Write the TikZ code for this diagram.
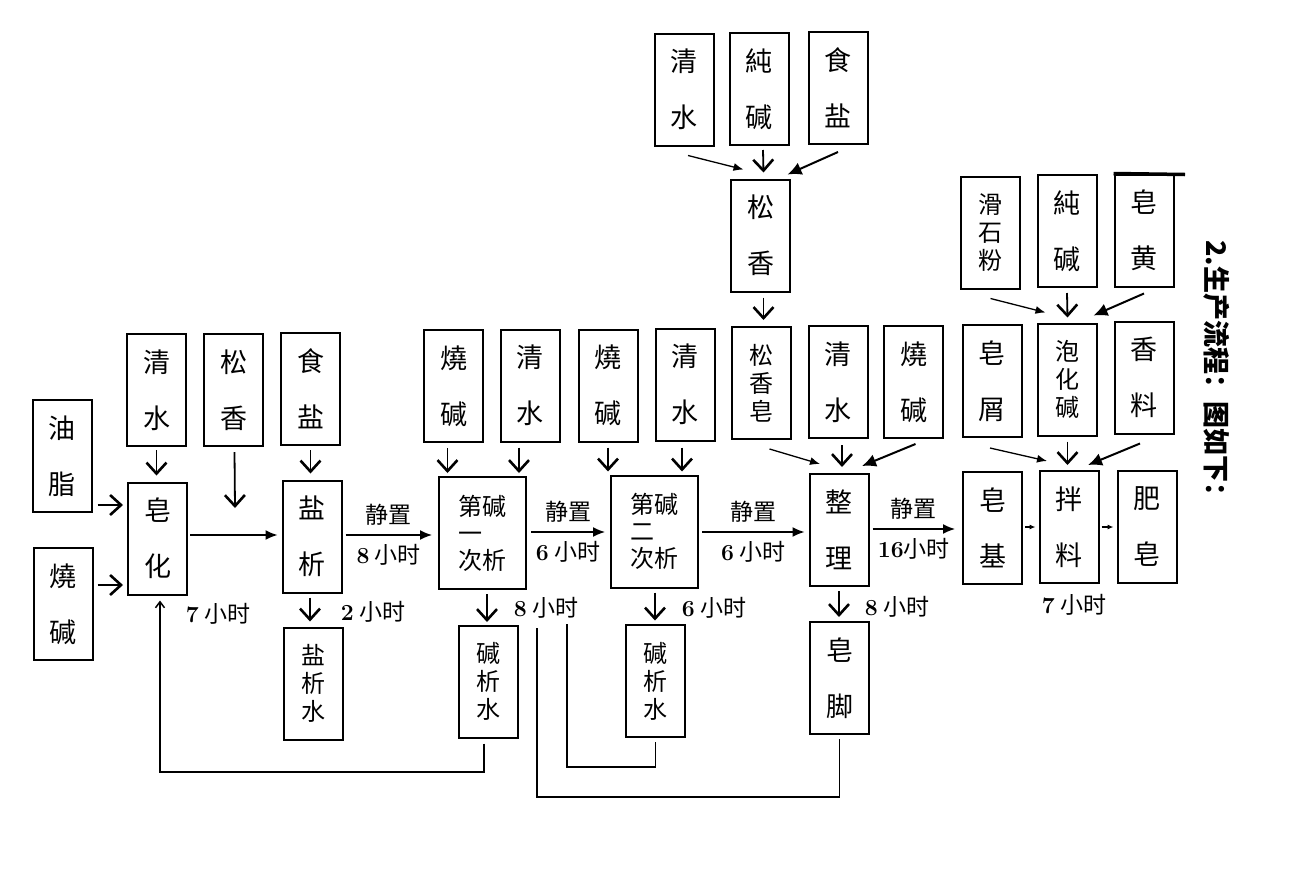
\documentclass[tikz,border=0pt]{standalone}
\usepackage{fontspec}
\newfontfamily\cjk{Noto Sans CJK SC}
\usetikzlibrary{arrows.meta,calc}
\newcommand\numb[1]{{\rmfamily\bfseries #1}}
\tikzset{
 bx/.style={draw, line width=2pt, minimum width=59pt, minimum height=112pt, inner sep=0pt, align=center, font=\cjk\fontsize{27}{56}\selectfont},
 bx3/.style={bx, font=\cjk\fontsize{24}{28}\selectfont},
 bxw/.style={bx, minimum width=87pt, font=\cjk\fontsize{24}{27}\selectfont},
 dn/.style={line width=1.8pt, -{Straight Barb[length=11pt,width=20pt,line width=2.6pt]}},
 hz/.style={line width=1.5pt, -{Latex[length=12pt,width=10pt]}},
 hzs/.style={line width=1.1pt, -{Latex[length=6pt,width=5pt]}},
 dgl/.style={line width=1.3pt, -{Latex[length=10pt,width=8pt]}},
 dgr/.style={line width=2pt, -{Latex[length=14pt,width=13pt]}},
 lp/.style={line width=1.5pt},
 lbl/.style={font=\cjk\fontsize{23}{26}\selectfont, inner sep=0pt},
}
\begin{document}
\begin{tikzpicture}[x=1pt,y=-1pt]
\fill[white] (0,0) rectangle (1306,873);
\useasboundingbox (0,0) rectangle (1306,873);

% top group
\node[bx] (tqs) at (684,89.5) {清\\水};
\node[bx] (tcj) at (759,89) {純\\碱};
\node[bx] (tsy) at (838,88) {食\\盐};
\node[bx] (sx) at (760.5,235.5) {松\\香};

% right top group
\node[bx3] (hsf) at (990.5,232.5) {滑\\石\\粉};
\node[bx] (cj2) at (1067,231) {純\\碱};
\node[bx] (zh) at (1144,230.5) {皂\\黄};
\draw[line width=3.5pt] (zh.north west) -- (1185,174.5);

% input row
\node[bx] (qs1) at (156.5,390) {清\\水};
\node[bx] (sx1) at (233.5,390) {松\\香};
\node[bx] (sy1) at (310.5,389) {食\\盐};
\node[bx] (sj1) at (453.5,386) {燒\\碱};
\node[bx] (qs2) at (530,385.5) {清\\水};
\node[bx] (sj2) at (608,385.5) {燒\\碱};
\node[bx] (qs3) at (685,384.5) {清\\水};
\node[bx3] (sxz) at (761.5,383) {松\\香\\皂};
\node[bx] (qs4) at (838,382) {清\\水};
\node[bx] (sj3) at (913.5,382) {燒\\碱};
\node[bx] (zx) at (992,381) {皂\\屑};
\node[bx3] (phj) at (1067.5,379.5) {泡\\化\\碱};
\node[bx] (xl) at (1144,377.5) {香\\料};

% left inputs
\node[bx] (yz) at (62,456) {油\\脂};
\node[bx] (sj0) at (63,604) {燒\\碱};

% main row
\node[bx] (zh1) at (157.5,538.5) {皂\\化};
\node[bx] (yx) at (312,536.5) {盐\\析};
\node[bxw] (d1) at (482.5,533) {第碱\\一\hphantom{碱}\\次析};
\node[bxw] (d2) at (654.5,531.5) {第碱\\二\hphantom{碱}\\次析};
\node[bx] (zl) at (839,530) {整\\理};
\node[bx] (zj) at (992.5,528) {皂\\基};
\node[bx] (bl) at (1069,527) {拌\\料};
\node[bx] (fz) at (1147,527) {肥\\皂};

% bottom row
\node[bx3] (yxs) at (313,683.5) {盐\\析\\水};
\node[bx3] (jxs1) at (488,681.5) {碱\\析\\水};
\node[bx3] (jxs2) at (655.5,681) {碱\\析\\水};
\node[bx] (zjiao) at (839.5,678) {皂\\脚};

% title
\node[rotate=-90, font=\cjk\bfseries\fontsize{27}{30}\selectfont, inner sep=0pt] (title) at (1217,375) {2.生产流程：图如下：};

% arrows into top 松香
\draw[dgl] ($(tqs.south)+(4,9)$) -- ($(sx.north)+(-17,-9)$);
\draw[dn] ($(tcj.south)+(4,4)$) -- ($(sx.north)+(3,-6)$);
\draw[dgr] ($(tsy.south)+(0,7)$) -- ($(sx.north)+(27,-4)$);
\draw[dn] ($(sx.south)+(3,5)$) -- ($(sxz.north)+(2,-6)$);

% arrows into 泡化碱
\draw[dgl] ($(hsf.south)+(0,9)$) -- ($(phj.north)+(-22,-10)$);
\draw[dn] ($(cj2.south)+(0,5)$) -- ($(phj.north)+(0,-5)$);
\draw[dgr] ($(zh.south)+(0,6)$) -- ($(phj.north)+(26,-7)$);

% input row arrows
\draw[dn] ($(qs1.south)+(0,3)$) -- ($(qs1.south |- zh1.north)+(0,-6)$);
\coordinate (sxend) at (235,508);
\draw[dn] ($(sx1.south)+(1,5)$) -- (sxend);
\draw[dn] ($(sy1.south)+(0,4)$) -- ($(sy1.south |- yx.north)+(0,-6)$);
\draw[dn] ($(sj1.south)+(-6,5)$) -- ($(sj1.south |- d1.north)+(-6,-3)$);
\draw[dn] ($(qs2.south)+(-11,5)$) -- ($(qs2.south |- d1.north)+(-11,-3)$);
\draw[dn] ($(sj2.south)+(0,5)$) -- ($(sj2.south |- d2.north)+(0,-3)$);
\draw[dn] ($(qs3.south)+(-3,6)$) -- ($(qs3.south |- d2.north)+(-3,-3)$);
\draw[dgl] ($(sxz.south)+(8,9)$) -- ($(zl.north)+(-19,-9)$);
\draw[dn] ($(qs4.south)+(4,6)$) -- ($(qs4.south |- zl.north)+(4,-6)$);
\draw[dgr] ($(sj3.south)+(2,5)$) -- ($(zl.north)+(23,-7)$);
\draw[dgl] ($(zx.south)+(-2,10)$) -- ($(bl.north)+(-22,-9)$);
\draw[dn] ($(phj.south)+(0,5)$) -- ($(phj.south |- bl.north)+(0,-5)$);
\draw[dgr] ($(xl.south)+(-4,9)$) -- ($(bl.north)+(19,-5)$);

% left inputs
\draw[dn] ($(yz.east)+(5,49)$) -- ($(zh1.west |- yz.east)+(-4,49)$);
\draw[dn] ($(sj0.east)+(4,-19)$) -- ($(zh1.west |- sj0.east)+(-4,-19)$);

% main row arrows
\draw[hz] ($(zh1.east)+(2,-3.5)$) -- ($(yx.west)+(-4,-1.5)$);
\draw[hz] ($(yx.east)+(3,-1.5)$) -- ($(d1.west)+(-6,2)$)
  node[lbl, midway, above=9pt] {静置}
  node[lbl, midway, below=9pt] {\numb{8} 小时};
\draw[hz] ($(d1.east)+(4,-1)$) -- ($(d2.west)+(-5,0.5)$)
  node[lbl, midway, above=9pt] {静置}
  node[lbl, midway, below=9pt] {\numb{6} 小时};
\draw[hz] ($(d2.east)+(3,0.5)$) -- ($(zl.west)+(-4,2)$)
  node[lbl, midway, above=9pt] {静置}
  node[lbl, midway, below=9pt] {\numb{6} 小时};
\draw[hz] ($(zl.east)+(3,-1)$) -- ($(zj.west)+(-7,1)$)
  node[lbl, midway, above=9pt] {静置}
  node[lbl, midway, below=9pt] {\numb{16}小时};
\draw[hzs] ($(zj.east)+(2,-1)$) -- ($(bl.west)+(-3,0)$);
\draw[hzs] ($(bl.east)+(2,0)$) -- ($(fz.west)+(-3,0)$);

% down arrows with times
\draw[dn] ($(yx.south)+(-2,4)$) -- ($(yxs.north)+(-3,-5)$);
\node[lbl] at (373,612) {\numb{2} 小时};
\draw[dn] ($(d1.south)+(4.5,4)$) -- ($(d1.south)+(4.5,32)$);
\node[lbl] at (546,608) {\numb{8} 小时};
\draw[dn] ($(d2.south)+(0.5,4)$) -- ($(d2.south)+(0.5,32)$);
\node[lbl] at (714,608) {\numb{6} 小时};
\draw[dn] ($(zl.south)+(0,4)$) -- ($(zl.south)+(0,30)$);
\node[lbl] at (897,607) {\numb{8} 小时};
\node[lbl] at (218,614) {\numb{7} 小时};
\node[lbl] at (1074,605) {\numb{7} 小时};

% return lines
\draw[lp, -{Straight Barb[length=6pt,width=9pt]}] ($(jxs1.south)+(-4,5)$) |- (160,772) -- ($(zh1.south)+(2.5,5)$);
\coordinate (r2) at (567,624);
\draw[lp] ($(jxs2.south)+(0,4)$) |- (567,767) -- (r2);
\coordinate (r3) at (537,628);
\draw[lp] ($(zjiao.south)+(0,4)$) |- (537,797) -- (r3);
\end{tikzpicture}
\end{document}
